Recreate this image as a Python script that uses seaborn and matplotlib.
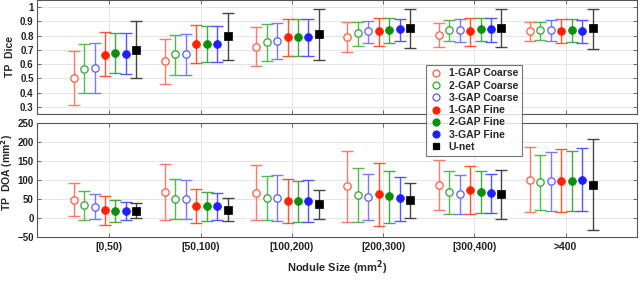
import numpy as np
import pandas as pd
import matplotlib
matplotlib.use("Agg")
import matplotlib.pyplot as plt
import seaborn as sns

categories = ["[0,50)", "[50,100)", "[100,200)", "[200,300)", "[300,400)", ">400"]
series = ["1-GAP Coarse", "2-GAP Coarse", "3-GAP Coarse", "1-GAP Fine", "2-GAP Fine", "3-GAP Fine", "U-net"]

# Dice: mean, upper, lower (per series, per category)
dice_mean = [
    [0.50, 0.62, 0.723, 0.793, 0.805, 0.833],
    [0.568, 0.669, 0.754, 0.817, 0.838, 0.836],
    [0.575, 0.669, 0.763, 0.829, 0.838, 0.836],
    [0.667, 0.74, 0.789, 0.829, 0.831, 0.833],
    [0.676, 0.74, 0.789, 0.84, 0.845, 0.836],
    [0.671, 0.74, 0.789, 0.843, 0.847, 0.833],
    [0.70, 0.798, 0.81, 0.85, 0.852, 0.85],
]
dice_upper = [
    [0.695, 0.777, 0.857, 0.894, 0.887, 0.894],
    [0.742, 0.807, 0.883, 0.899, 0.913, 0.899],
    [0.751, 0.81, 0.887, 0.904, 0.918, 0.908],
    [0.822, 0.873, 0.918, 0.927, 0.925, 0.918],
    [0.817, 0.869, 0.918, 0.923, 0.927, 0.915],
    [0.819, 0.869, 0.918, 0.92, 0.925, 0.913],
    [0.90, 0.958, 0.984, 0.986, 0.984, 0.99],
]
dice_lower = [
    [0.312, 0.46, 0.587, 0.688, 0.723, 0.765],
    [0.394, 0.526, 0.622, 0.730, 0.76, 0.772],
    [0.397, 0.526, 0.634, 0.746, 0.758, 0.76],
    [0.519, 0.606, 0.655, 0.728, 0.728, 0.75],
    [0.535, 0.613, 0.655, 0.749, 0.76, 0.752],
    [0.531, 0.613, 0.66, 0.76, 0.758, 0.749],
    [0.50, 0.629, 0.631, 0.711, 0.721, 0.704],
]

# DOA (mm^2): mean, upper, lower
doa_mean = [
    [47.9, 68, 65.3, 83.6, 87.1, 101],
    [34, 48.8, 52.3, 59.2, 68.8, 94],
    [28.7, 49.6, 52.3, 55.7, 61.8, 96.7],
    [20, 31.4, 45.3, 63.6, 73.2, 97.5],
    [17.4, 30.5, 44.4, 56.6, 68.8, 96.7],
    [17.4, 30.5, 45.3, 51.4, 65.3, 99.3],
    [19.2, 21.8, 37.5, 47, 61.8, 87],
]
doa_upper = [
    [91.5, 141, 139.4, 176.8, 152.4, 187.3],
    [71.4, 102.8, 111.5, 131.5, 124.6, 166.4],
    [61.8, 99.3, 113.2, 115, 113.2, 174.2],
    [58.4, 74.9, 102.8, 145.5, 136.7, 180.3],
    [46.2, 68, 97.5, 123.7, 124.6, 176.8],
    [41.8, 66.2, 100.2, 108.9, 116.7, 182.9],
    [39.2, 52.3, 73.2, 93.2, 125.4, 206.5],
]
doa_lower = [
    [5.2, -5.2, -6.1, -9.6, 20, 15.7],
    [-5.2, -3.5, -6.1, -10.5, 11.3, 20.9],
    [-1.7, -1.7, -7.8, -4.4, 9.6, 19.2],
    [-19, -12.2, -12.2, -20, 11.3, 15.7],
    [-9.6, -7.8, -9.6, -12.2, 13.9, 17.4],
    [-6.1, -6.1, -10.5, -7.8, 12.2, 17.4],
    [-0.9, -7, -1.7, 0, -2.6, -32.4],
]

marker_colors = ["#ff5a3c", "#2ea62e", "#5a5aff", "#ff2200", "#0a900a", "#2020ff", "#000000"]
line_colors = ["#ff7a66", "#55b855", "#7a7aff", "#ff5533", "#44aa44", "#5555ff", "#444444"]
filled = [False, False, False, True, True, True, True]
markers = ["o", "o", "o", "o", "o", "o", "s"]
offsets = [-0.39 + i * 0.1145 for i in range(7)]

sns.set_theme(style="whitegrid")
plt.rcParams["font.family"] = ["Liberation Sans", "DejaVu Sans"]
plt.rcParams["font.weight"] = "bold"

fig = plt.figure(figsize=(6.4, 2.9), dpi=100)
ax1 = fig.add_axes([0.058, 0.607, 0.937, 0.393])
ax2 = fig.add_axes([0.058, 0.183, 0.937, 0.393])

xpos = np.arange(1, len(categories) + 1)


def draw(ax, means, uppers, lowers):
    handles = []
    for i, name in enumerate(series):
        m = np.array(means[i])
        up = np.array(uppers[i]) - m
        lo = m - np.array(lowers[i])
        x = xpos + offsets[i]
        ax.errorbar(x, m, yerr=[lo, up], fmt="none", ecolor=line_colors[i],
                    elinewidth=1.0, capsize=4, capthick=1.0, zorder=2)
        df = pd.DataFrame({"x": x, "y": m})
        if filled[i]:
            sns.scatterplot(data=df, x="x", y="y", ax=ax, marker=markers[i],
                            s=32 if markers[i] == "o" else 26, color=marker_colors[i],
                            edgecolor=marker_colors[i], linewidth=0.5, zorder=3)
        else:
            sns.scatterplot(data=df, x="x", y="y", ax=ax, marker="o", s=28,
                            facecolor="white", edgecolor=marker_colors[i],
                            linewidth=0.9, zorder=3)
        h = plt.Line2D([], [], linestyle="none", marker=markers[i], markersize=5,
                       markerfacecolor=marker_colors[i] if filled[i] else "none",
                       markeredgecolor=marker_colors[i], markeredgewidth=0.9)
        handles.append(h)
    return handles


handles = draw(ax1, dice_mean, dice_upper, dice_lower)
draw(ax2, doa_mean, doa_upper, doa_lower)

for ax in (ax1, ax2):
    ax.set_xlim(0.21, 6.78)
    ax.set_xticks(xpos)
    ax.grid(True, color="#e6e6e6", linewidth=0.7)
    ax.set_facecolor("white")
    for s in ax.spines.values():
        s.set_color("#555555")
        s.set_linewidth(0.8)
    ax.tick_params(direction="in", length=3, width=0.6, color="#555555",
                   labelsize=7, pad=2.5, top=True, right=True, bottom=True, left=True,
                   labelcolor="#222222")
    ax.tick_params(axis="x", labelsize=7.5, pad=4)
    ax.set_xlabel("")
    ax.set_ylabel("")

ax1.set_ylim(0.25, 1.05)
ax1.set_yticks([0.3, 0.4, 0.5, 0.6, 0.7, 0.8, 0.9, 1.0])
ax1.set_yticklabels(["0.3", "0.4", "0.5", "0.6", "0.7", "0.8", "0.9", "1"])
ax1.set_xticklabels([])
ax1.set_ylabel("TP  Dice", fontsize=7.5, fontweight="bold")
ax1.yaxis.set_label_coords(-0.037, 0.5)

ax2.set_ylim(-50, 250)
ax2.set_yticks([-50, 0, 50, 100, 150, 200, 250])
ax2.set_xticklabels(categories, fontweight="bold")
ax2.set_ylabel("TP  DOA (mm$^\\mathbf{2}$)", fontsize=7.5, fontweight="bold")
ax2.yaxis.set_label_coords(-0.037, 0.57)
ax2.set_xlabel("Nodule Size (mm$^\\mathbf{2}$)", fontsize=8, fontweight="bold", labelpad=4)

for lab in ax1.get_yticklabels() + ax2.get_yticklabels() + ax2.get_xticklabels():
    lab.set_fontweight("bold")

leg = fig.legend(handles, series, loc="upper left", bbox_to_anchor=(0.658, 0.795),
                 frameon=True, fancybox=False, handlelength=1.2,
                 handletextpad=0.6, labelspacing=0.22, borderpad=0.35,
                 prop={"weight": "bold", "size": 7.5})
leg.get_frame().set_edgecolor("#555555")
leg.get_frame().set_linewidth(0.8)
leg.set_zorder(10)

fig.savefig("out.png", dpi=100)
